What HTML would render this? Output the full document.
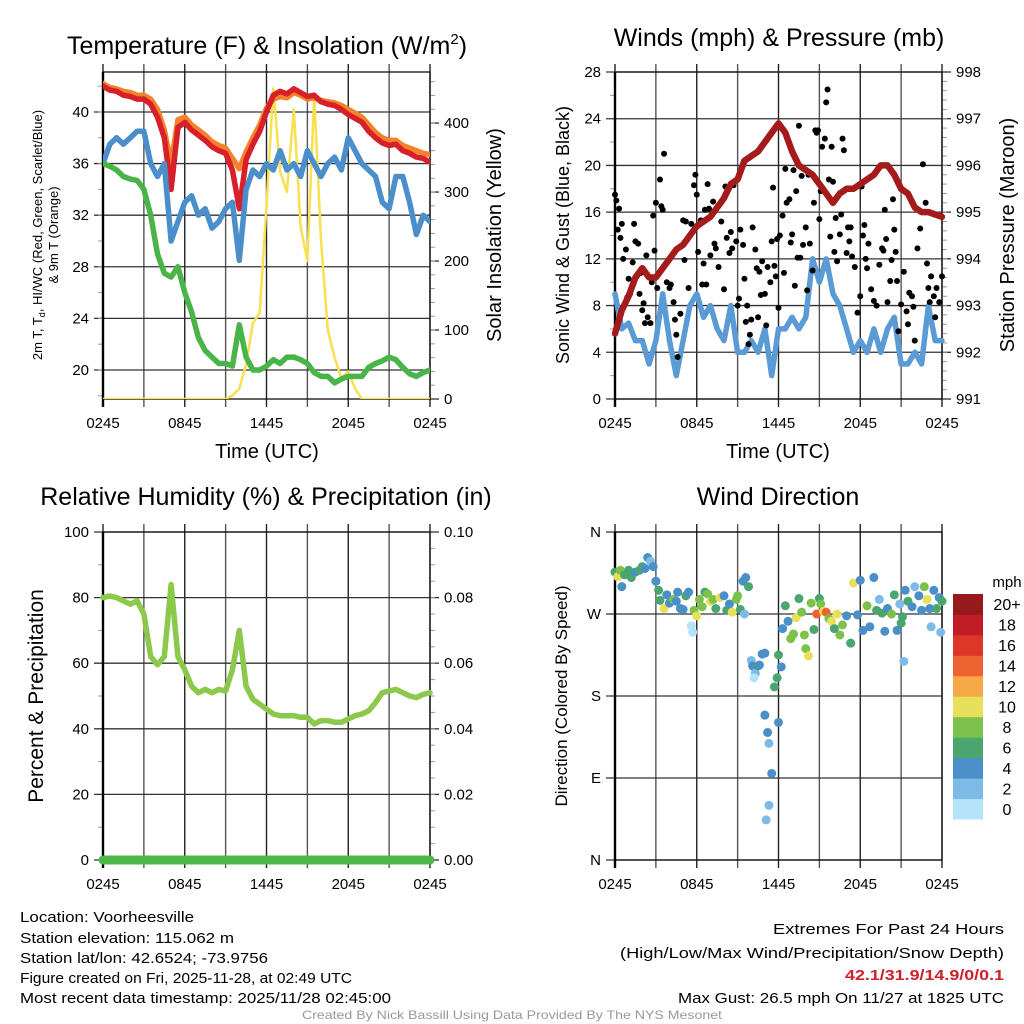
<!DOCTYPE html>
<html><head><meta charset="utf-8"><style>
html,body{margin:0;padding:0;background:#fff;}
svg{display:block;font-family:"Liberation Sans",Arial,sans-serif;}
</style></head><body>
<svg id="chart" width="1024" height="1024" viewBox="0 0 1024 1024" xmlns="http://www.w3.org/2000/svg">
<rect width="1024" height="1024" fill="#fff"/>
<g id="g1"></g>
<g id="g2"></g>
<g id="g3"></g>
<g id="g4"></g>
<g id="titles" font-size="25" text-anchor="middle" fill="#000">
<text x="267" y="54">Temperature (F) &amp; Insolation (W/m<tspan font-size="15" dy="-10">2</tspan><tspan dy="10">)</tspan></text>
<text x="779" y="46">Winds (mph) &amp; Pressure (mb)</text>
<text x="266" y="505">Relative Humidity (%) &amp; Precipitation (in)</text>
<text x="778" y="505">Wind Direction</text>
</g>
<g fill="#000">
<text x="267" y="458" font-size="20" text-anchor="middle">Time (UTC)</text>
<text x="778" y="458" font-size="20" text-anchor="middle">Time (UTC)</text>
<text transform="translate(42,235) rotate(-90)" font-size="13" text-anchor="middle">2m T, T<tspan font-size="9" dy="3">d</tspan><tspan dy="-3">, HI/WC (Red, Green, Scarlet/Blue)</tspan></text>
<text transform="translate(58,235) rotate(-90)" font-size="13" text-anchor="middle">&amp; 9m T (Orange)</text>
<text transform="translate(501,235) rotate(-90)" font-size="20" text-anchor="middle">Solar Insolation (Yellow)</text>
<text transform="translate(569,235) rotate(-90)" font-size="18" text-anchor="middle">Sonic Wind &amp; Gust (Blue, Black)</text>
<text transform="translate(1014,235) rotate(-90)" font-size="20" text-anchor="middle">Station Pressure (Maroon)</text>
<text transform="translate(43,696) rotate(-90)" font-size="21" text-anchor="middle">Percent &amp; Precipitation</text>
<text transform="translate(567,696) rotate(-90)" font-size="17" text-anchor="middle">Direction (Colored By Speed)</text>
</g>
<g font-size="15" fill="#000">
<text x="20" y="922" textLength="174" lengthAdjust="spacingAndGlyphs">Location: Voorheesville</text>
<text x="20" y="943" textLength="214" lengthAdjust="spacingAndGlyphs">Station elevation: 115.062 m</text>
<text x="20" y="963" textLength="248" lengthAdjust="spacingAndGlyphs">Station lat/lon: 42.6524; -73.9756</text>
<text x="20" y="983" textLength="332" lengthAdjust="spacingAndGlyphs">Figure created on Fri, 2025-11-28, at 02:49 UTC</text>
<text x="20" y="1003" textLength="371" lengthAdjust="spacingAndGlyphs">Most recent data timestamp: 2025/11/28 02:45:00</text>
<text x="1004" y="934" text-anchor="end" textLength="231" lengthAdjust="spacingAndGlyphs">Extremes For Past 24 Hours</text>
<text x="1004" y="958" text-anchor="end" textLength="384" lengthAdjust="spacingAndGlyphs">(High/Low/Max Wind/Precipitation/Snow Depth)</text>
<text x="1004" y="980" text-anchor="end" fill="#d0202a" font-weight="bold" textLength="159" lengthAdjust="spacingAndGlyphs">42.1/31.9/14.9/0/0.1</text>
<text x="1004" y="1003" text-anchor="end" textLength="326" lengthAdjust="spacingAndGlyphs">Max Gust: 26.5 mph On 11/27 at 1825 UTC</text>
<text x="512" y="1019" text-anchor="middle" font-size="12" fill="#999" textLength="420" lengthAdjust="spacingAndGlyphs">Created By Nick Bassill Using Data Provided By The NYS Mesonet</text>
</g>
</svg>
<script>
const hours=[0,0.5,1,1.5,2,2.5,3,3.5,4,4.5,5,5.5,6,6.5,7,7.5,8,8.5,9,9.5,10,10.5,11,11.5,12,12.5,13,13.5,14,14.5,15,15.5,16,16.5,17,17.5,18,18.5,19,19.5,20,20.5,21,21.5,22,22.5,23,23.5,24];
const xTickLabels=["0245","0845","1445","2045","0245"];
const tempRed=[42,41.7,41.6,41.3,41.2,41,41,40.6,39.6,38,34,38.8,39.2,38.6,38.2,37.8,37.3,37,36.8,35.5,32.5,36.3,37.5,38.5,40,41.3,41.6,41.4,41.8,41.5,41.2,41.3,40.8,40.6,40.5,40.2,39.8,39.5,39.2,38.5,38,37.6,37.4,37.5,37,36.8,36.5,36.4,36.1];
const tempOrange=[42.2,41.9,41.8,41.6,41.5,41.3,41.3,41,40.2,38.6,36,39.4,39.6,39,38.6,38.2,37.7,37.4,37.2,36.4,35.6,36.9,38,39,40.3,41,41.2,41.1,41.5,41.3,41,41.1,40.9,40.8,40.7,40.5,40.2,39.9,39.6,39,38.4,38,37.8,37.8,37.4,37.2,37,36.8,36.7];
const tempBlue=[36,37.5,38,37.5,38,38.5,38.5,36,35,36,30,31.5,33,33.5,32,32.5,31,31.5,32.5,33,28.5,34,35.5,35,36,35.5,37,35.5,36,35,37,36,35,36,36.5,35.5,38,37,36,35.5,35,33,32.5,35,35,33,30.5,32,31.5];
const dewGreen=[36,35.8,35.5,35,34.8,34.7,34,32,29,27.5,27.2,28,26,24.5,22.5,21.5,21,20.5,20.5,20.3,23.5,21,20,20,20.3,20.8,20.5,21,21,20.8,20.5,19.8,19.5,19.5,19,19.3,19.5,19.5,19.5,20.2,20.5,20.7,21,20.8,20.2,19.7,19.5,19.8,20];
const insolation=[0,0,0,0,0,0,0,0,0,0,0,0,0,0,0,0,0,0,0,5,15,50,110,125,280,450,330,300,420,250,200,440,230,100,60,30,40,15,0,0,0,0,0,0,0,0,0,0,0];
const pressure=[992.4,992.9,993.2,993.6,993.8,993.6,993.6,993.8,994,994.2,994.3,994.5,994.7,994.8,994.9,995.1,995.3,995.6,995.7,996.1,996.2,996.3,996.5,996.7,996.9,996.7,996.3,996,995.9,995.8,995.6,995.4,995.2,995.4,995.5,995.5,995.6,995.7,995.8,996,996,995.8,995.5,995.4,995.1,995,995,994.95,994.9];
const windSpeed=[9,6,6.5,5,5,3,5,9,5,2,5,8,9,7,8,6,5,8,4,4,5,4,6,2,6,6,7,6,7,12,10,12,9,8,6,4,5,4,6,4,6,7,3,3,4,3,8,5,5];
const gustTimes=[0,0.1,0.2,0.3,0.4,0.5,0.6,0.8,0.9,1,1.1,1.3,1.4,1.5,1.6,1.7,1.8,1.9,2,2.1,2.2,2.3,2.4,2.6,2.7,2.8,2.9,3,3.1,3.3,3.4,3.5,3.6,3.8,4,4.1,4.3,4.4,4.5,4.6,4.8,5,5.1,5.2,5.4,5.6,5.8,5.9,6,6.1,6.3,6.4,6.5,6.6,6.7,6.8,6.9,7,7.2,7.3,7.4,7.6,7.8,8,8.1,8.2,8.4,8.5,8.6,8.7,8.9,9,9.1,9.2,9.4,9.5,9.6,9.7,9.8,9.9,10,10.1,10.3,10.4,10.5,10.6,10.7,10.8,11,11.1,11.2,11.4,11.5,11.6,11.7,11.8,11.9,12,12.1,12.3,12.4,12.5,12.6,12.8,12.9,13,13.1,13.2,13.3,13.4,13.5,13.6,13.7,13.8,14,14.1,14.2,14.3,14.5,14.6,14.7,14.8,14.9,15,15.1,15.2,15.4,15.5,15.6,15.7,15.8,15.9,16,16.1,16.2,16.3,16.5,16.6,16.7,16.8,17,17.1,17.2,17.3,17.4,17.6,17.8,18,18.1,18.2,18.3,18.4,18.5,18.6,18.8,19,19.2,19.4,19.6,19.7,19.8,19.9,20,20.2,20.3,20.4,20.5,20.6,20.7,20.8,21,21.2,21.4,21.5,21.6,21.8,21.9,22,22.2,22.4,22.6,22.8,22.9,23,23.1,23.2,23.4,23.5,23.6,23.8,24];
const gustValues=[17.5,17,14.5,16.3,13.8,15,12,12.8,8.7,10.3,9,11.7,15,13.5,10.5,13.3,9,10.8,7.6,8.2,6.5,12.3,7,6.5,10,15.7,12.7,16.8,9.5,18.8,16.5,16.2,21,10,9.5,9.8,8.3,6.8,5.5,3.6,7.3,15.3,11.9,15.2,9.5,15,18.3,19.2,17.5,12.6,15.3,9.8,11.6,16.2,9.8,18.4,16.3,12.3,16.9,13.3,12.9,11.3,15.2,9.4,18.2,13.8,12.5,14.3,12.9,18.3,13.5,8,8.6,14.5,13.2,10.3,6.6,8,4.7,5.5,6.8,14.7,12.8,11.2,7,10.9,8.9,11.8,9,6.3,11.3,10,13.5,18.1,11.4,10.5,13.7,7.8,14,15.7,10.8,19.7,16.8,17.1,13.4,14.1,19.6,9.7,17.8,12.1,23.4,12.1,19.1,13.2,14.7,9.3,19.2,13.3,11,16.8,23,22.8,23,15.4,17.8,21.6,22.3,25.4,26.5,18.8,13.9,21.6,18.6,12.6,15.5,11.8,14.1,15.8,22.3,21.3,12.5,14.7,13.5,14.7,12.2,11.3,7.4,8.8,18.2,14,14.9,12,11.2,13.3,9.4,8.4,8,11.5,12.9,12.7,16.2,13.7,8.3,10.1,11.9,17.1,14.5,12.6,10.1,5.8,8.1,10.9,7.5,6.4,9.1,8.8,7.9,5,12.9,14.6,20.1,16.8,11.6,9.5,8.3,10.5,8.8,7,9.5,8.3,10.5,8.3,6.8];
const humidity=[80,80.5,80,79,78,79,75,62,59.5,62,84,62,58,53,51,52,51,52,51.5,58,70,53,49,47.5,46,44.5,44,44,44,43.5,43.5,41.5,42.5,42.5,42,42,43,44,44.5,45.5,48,51,51.5,52,51,50,49.5,50.5,51];
const precip=[0,0,0,0,0,0,0,0,0,0,0,0,0,0,0,0,0,0,0,0,0,0,0,0,0,0,0,0,0,0,0,0,0,0,0,0,0,0,0,0,0,0,0,0,0,0,0,0,0];
const dirTimes=[0,0.2,0.4,0.5,0.7,1,1.2,1.5,1.8,2,2.2,2.4,2.6,2.8,3,3.2,3.3,3.6,3.8,4,4.3,4.5,4.6,4.8,5,5.2,5.4,5.6,5.7,5.8,6,6.2,6.4,6.6,6.8,7,7.2,7.4,7.7,8,8.2,8.4,8.6,8.9,9,9.2,9.4,9.6,9.8,9.5,10,10.1,10.3,10.2,10.5,10.6,10.8,11,11,11.2,11.3,11.5,11.3,11.1,11.7,11.9,12,12.2,12,12.3,12.5,12.7,12.9,13.1,13.3,13.5,13.7,13.9,14,14.2,14.4,14.6,14.8,15,15.1,15.3,15.5,15.7,15.9,16.1,16.3,16.5,16.7,17,17.3,17.5,17.8,18,18.2,18.5,18.7,19,19.2,19.4,19.6,19.8,20,20.3,20.5,20.7,20.9,21,21.1,21.2,21.3,21.5,21.8,22,22.3,22.5,22.7,22.9,23.1,23.2,23.4,23.6,23.8,24,23.9];
const dirValues=[316,311,318,300,313,318,310,316,318,322,320,332,328,322,306,296,285,276,291,282,286,284,294,276,275,290,294,257,250,274,268,286,278,294,292,284,286,276,288,290,274,281,272,286,290,275,306,310,300,270,219,213,205,200,213,214,226,227,159,140,128,95,60,44,190,200,225,212,151,254,279,262,243,248,266,287,272,247,232,224,282,253,270,287,281,273,272,265,262,254,270,247,258,268,238,304,269,307,252,279,256,310,274,286,271,251,276,270,291,252,281,260,267,218,296,284,278,300,290,274,300,286,276,256,296,276,288,284,250];
const dirSpeeds=[7,10,8,4,6,6,6,5,6,6,4,4,3,4,5,6,7,10,4,5,8,4,4,4,4,6,4,1,1,8,10,8,8,6,8,10,8,6,10,4,6,4,10,8,8,6,4,4,6,2,2,4,2,1,6,4,4,4,4,4,2,4,2,2,6,6,6,4,4,4,6,4,8,8,10,6,8,8,8,10,8,6,14,6,8,10,14,8,10,6,10,8,8,4,6,10,4,4,4,8,4,4,6,2,6,4,4,8,6,4,2,6,6,2,4,6,4,2,4,4,8,10,4,2,4,6,4,6,2];
const speedBinLabels=["0","2","4","6","8","10","12","14","16","18","20+"];
const speedBinColors=["#b5e3f8","#7dbbe6","#4a8fc7","#4aa56f","#7cc14b","#e7e05b","#f6a946","#ee6331","#de3629","#c11d27","#961a1c"];

const NS="http://www.w3.org/2000/svg";
function mk(parent,tag,attrs){const e=document.createElementNS(NS,tag);for(const k in attrs)e.setAttribute(k,attrs[k]);parent.appendChild(e);return e;}
function xs(p,h){return p.x0+(p.x1-p.x0)*h/24;}
function ys(p,v,lo,hi){return p.y1-(v-lo)/(hi-lo)*(p.y1-p.y0);}

function frame(g,p,leftTicks,leftLo,leftHi,leftMinor,rightTicks,rightLo,rightHi,rightMinor,leftLabels,rightLabels,xlabels){
  for(let h=0;h<=24;h+=3){
    const x=xs(p,h);
    const l=mk(g,'line',{x1:x,y1:p.y0-8,x2:x,y2:p.y1+8,stroke:(h%6===0)?'#222':'#555','stroke-width':1.4});
    
    
  }
  leftTicks.forEach((v,i)=>{
    const y=ys(p,v,leftLo,leftHi);
    const l=mk(g,'line',{x1:p.x0-9,y1:y,x2:p.x1,y2:y,stroke:'#333','stroke-width':1.3});
    
    
    const t=mk(g,'text',{x:p.x0-14,y:y+5,'font-size':15,'text-anchor':'end',fill:'#000'});
    t.textContent=leftLabels[i];
    
    
  });
  leftMinor.forEach(v=>{const y=ys(p,v,leftLo,leftHi);const l=mk(g,'line',{x1:p.x0-5,y1:y,x2:p.x0,y2:y,stroke:'#999','stroke-width':1});
    
    });
  rightTicks.forEach((v,i)=>{
    const y=ys(p,v,rightLo,rightHi);
    const l=mk(g,'line',{x1:p.x1,y1:y,x2:p.x1+9,y2:y,stroke:'#333','stroke-width':1.3});
    
    
    if(rightLabels){const t=mk(g,'text',{x:p.x1+14,y:y+5,'font-size':15,'text-anchor':'start',fill:'#000'});
    t.textContent=rightLabels[i];
    
    }
  });
  rightMinor.forEach(v=>{const y=ys(p,v,rightLo,rightHi);const l=mk(g,'line',{x1:p.x1,y1:y,x2:p.x1+5,y2:y,stroke:'#999','stroke-width':1});
    
    });
  const r=mk(g,'rect',{x:p.x0,y:p.y0,width:p.x1-p.x0,height:p.y1-p.y0,fill:'none',stroke:'#111','stroke-width':1.3});
  
  
  const ax=mk(g,'line',{x1:p.x0,y1:p.y0,x2:p.x0,y2:p.y1+8,stroke:'#000','stroke-width':2.4});
  
  
  xlabels.forEach((s,i)=>{
    const t=mk(g,'text',{x:xs(p,i*6),y:p.y1+29,'font-size':15,'text-anchor':'middle',fill:'#000'});
    t.textContent=s;
    
    
  });
}
function line(g,p,xv,yv,lo,hi,color,w,name){
  const d=xv.map((h,i)=>(i?'L':'M')+xs(p,h).toFixed(1)+','+ys(p,yv[i],lo,hi).toFixed(1)).join('');
  const e=mk(g,'path',{d:d,fill:'none',stroke:color,'stroke-width':w,'stroke-linejoin':'round','stroke-linecap':'round'});
  
  
  return e;
}
function range(a,b,s){const r=[];for(let v=a;v<=b+1e-9;v+=s)r.push(+v.toFixed(4));return r;}

// Panel 1
const p1={x0:103,x1:430,y0:72,y1:399};
const g1=document.getElementById('g1');
frame(g1,p1,[20,24,28,32,36,40],17.75,43.1,range(18,42,2),[0,100,200,300,400],0,474,range(20,460,20),["20","24","28","32","36","40"],["0","100","200","300","400"],xTickLabels);
const clip1=mk(g1,'clipPath',{id:'c1'});mk(clip1,'rect',{x:p1.x0,y:p1.y0,width:p1.x1-p1.x0,height:p1.y1-p1.y0});
const s1=mk(g1,'g',{'clip-path':'url(#c1)'});


line(s1,p1,hours,insolation,0,474,'#f9e04f',2.5,'insolation-line');
line(s1,p1,hours,tempOrange,17.75,43.1,'#f5812b',5.5,'temp-9m-line');
line(s1,p1,hours,tempRed,17.75,43.1,'#d7202a',5.5,'temp-2m-line');
line(s1,p1,hours,tempBlue,17.75,43.1,'#4a8fcb',5.5,'wind-chill-line');
line(s1,p1,hours,dewGreen,17.75,43.1,'#49b447',5.5,'dewpoint-line');

// Panel 2
const p2={x0:615,x1:942,y0:72,y1:399};
const g2=document.getElementById('g2');
frame(g2,p2,[0,4,8,12,16,20,24,28],0,28,range(2,26,4),[991,992,993,994,995,996,997,998],991,998,range(991.2,997.8,0.2),["0","4","8","12","16","20","24","28"],["991","992","993","994","995","996","997","998"],xTickLabels);
const clip2=mk(g2,'clipPath',{id:'c2'});mk(clip2,'rect',{x:p2.x0-3,y:p2.y0,width:p2.x1-p2.x0+6,height:p2.y1-p2.y0});
const s2=mk(g2,'g',{'clip-path':'url(#c2)'});


line(s2,p2,hours,windSpeed,0,28,'#5b9bd5',5.5,'wind-speed-line');
gustTimes.forEach((h,i)=>{
  const c=mk(s2,'circle',{cx:xs(p2,h),cy:ys(p2,gustValues[i],0,28),r:3,fill:'#000'});
  
  
});
line(s2,p2,hours,pressure,991,998,'#a51b1b',6.5,'pressure-line');

// Panel 3
const p3={x0:103,x1:430,y0:532,y1:860};
const g3=document.getElementById('g3');
frame(g3,p3,[0,20,40,60,80,100],0,100,range(10,90,20),[0,0.02,0.04,0.06,0.08,0.1],0,0.1,range(0.005,0.095,0.005),["0","20","40","60","80","100"],["0.00","0.02","0.04","0.06","0.08","0.10"],xTickLabels);
line(g3,p3,hours,humidity,0,100,'#8cc84b',5.5,'humidity-line');
line(g3,p3,hours,precip,0,0.1,'#4db848',9,'precipitation-line');

// Panel 4
const p4={x0:615,x1:942,y0:532,y1:860};
const g4=document.getElementById('g4');
frame(g4,p4,[0,90,180,270,360],0,360,[],[],0,360,[],["N","E","S","W","N"],null,xTickLabels);
dirTimes.forEach((h,i)=>{
  const bin=Math.min(10,Math.floor(dirSpeeds[i]/2));
  const c=mk(g4,'circle',{cx:xs(p4,h),cy:ys(p4,dirValues[i],0,360),r:4.5,fill:speedBinColors[bin]});
  
  
});
const cb=mk(g4,'g',{});


const cbTop=594,cbBot=819,cbH=(cbBot-cbTop)/speedBinLabels.length;
speedBinLabels.forEach((lab,i)=>{
  const y=cbBot-(i+1)*cbH;
  const r=mk(cb,'rect',{x:953,y:y,width:30,height:cbH+0.5,fill:speedBinColors[i]});
  
  
  const t=mk(cb,'text',{x:1007,y:y+cbH/2+6,'font-size':16,'text-anchor':'middle',fill:'#000'});
  t.textContent=lab;
  
  
});
const ut=mk(cb,'text',{x:1007,y:587,'font-size':15,'text-anchor':'middle',fill:'#000'});
ut.textContent='mph';


</script>
</body></html>
